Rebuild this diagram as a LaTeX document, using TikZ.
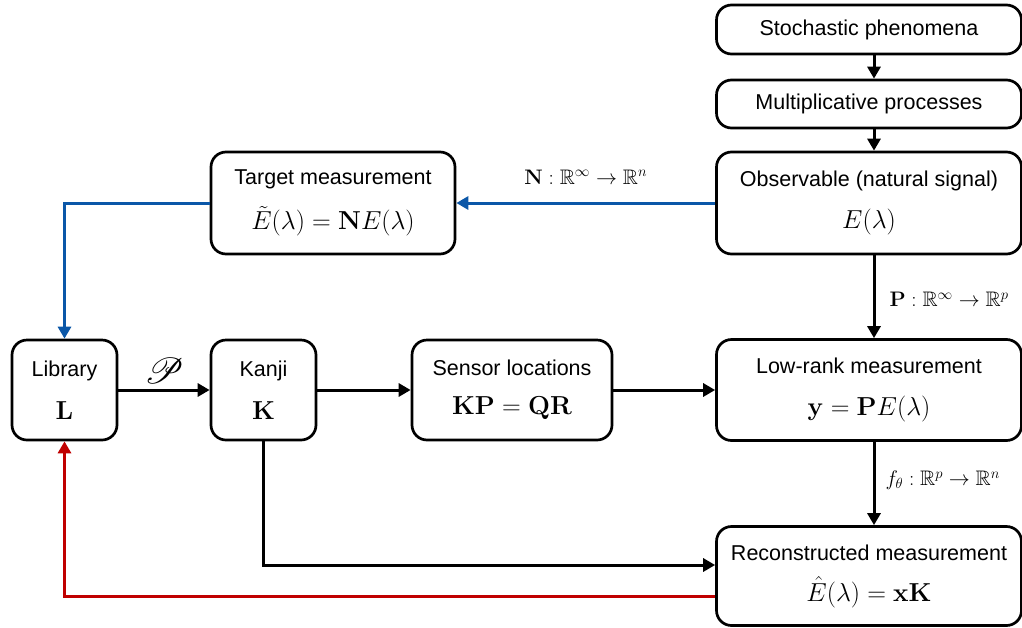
\RequirePackage{fix-cm}
\documentclass[tikz,border=0pt]{standalone}
\usepackage{amsmath,amssymb,mathrsfs}
\usepackage[no-math]{fontspec}
\newfontfamily\boxfont{Liberation Sans}
\usetikzlibrary{arrows.meta}
\definecolor{flowblue}{HTML}{0B57A8}
\definecolor{flowred}{HTML}{C00000}
\tikzset{
  stage/.style={draw, line width=2.7pt, rounded corners=15pt, align=center,
    font=\boxfont\fontsize{21.5}{25}\selectfont, inner sep=0pt},
  link/.style={line width=3pt, -{Triangle[length=12pt,width=13pt]}},
  maplabel/.style={font=\fontsize{21}{24}\selectfont, inner sep=0pt},
}
\newcommand{\boxmath}[1]{{\fontsize{26}{30}\selectfont$#1$}}
\begin{document}
\begin{tikzpicture}[x=1pt,y=-1pt]
\useasboundingbox (0,0) rectangle (1022,627);

% right-hand column
\node[stage, minimum width=305pt, minimum height=49pt] (stoch) at (869,29.5) {Stochastic phenomena};
\node[stage, minimum width=305pt, minimum height=48pt] (mult) at (869,104) {Multiplicative processes};
\node[stage, minimum width=305pt, minimum height=102pt] (obs) at (869,203)
  {Observable (natural signal)\\[17pt]\boxmath{E(\lambda)}};
\node[stage, minimum width=305pt, minimum height=101pt] (low) at (869,390)
  {Low-rank measurement\\[17pt]\boxmath{\mathbf{y} = \mathbf{P}E(\lambda)}};
\node[stage, minimum width=305pt, minimum height=99pt] (rec) at (869,576)
  {Reconstructed measurement\\[16pt]\boxmath{\hat{E}(\lambda) = \mathbf{x}\mathbf{K}}};

% target measurement
\node[stage, minimum width=244pt, minimum height=102pt] (target) at (333,203)
  {Target measurement\\[16pt]\boxmath{\tilde{E}(\lambda) = \mathbf{N}E(\lambda)}};

% middle row
\node[stage, minimum width=105pt, minimum height=100pt] (lib) at (64.5,390)
  {Library\\[18pt]\boxmath{\mathbf{L}}};
\node[stage, minimum width=105pt, minimum height=100pt] (kanji) at (263.5,390)
  {Kanji\\[18pt]\boxmath{\mathbf{K}}};
\node[stage, minimum width=200pt, minimum height=100pt] (sensor) at (512,390)
  {Sensor locations\\[14pt]\boxmath{\mathbf{KP} = \mathbf{QR}}};

% vertical chain on the right
\draw[link] ([xshift=5pt]stoch.south) -- ([xshift=5pt]mult.north);
\draw[link] ([xshift=5pt]mult.south) -- ([xshift=5pt]obs.north);
\draw[link] ([xshift=5pt]obs.south) -- node[maplabel, right=14pt, yshift=-3pt] {$\mathbf{P}:\mathbb{R}^{\infty}\rightarrow\mathbb{R}^{p}$} ([xshift=5pt]low.north);
\draw[link] ([xshift=5pt]low.south) -- node[maplabel, right=10pt, yshift=3pt] {$f_{\theta}:\mathbb{R}^{p}\rightarrow\mathbb{R}^{n}$} ([xshift=5pt]rec.north);

% measurement operator N
\draw[link, flowblue] (obs.west) -- node[maplabel, above=17pt, black] {$\mathbf{N}:\mathbb{R}^{\infty}\rightarrow\mathbb{R}^{n}$} (target.east);
\draw[link, flowblue] (target.west) -| (lib.north);

% middle row connections
\draw[link] (lib.east) -- node[above=4pt, inner sep=0pt, scale=1.45, font=\fontsize{26}{30}\selectfont] {$\mathscr{P}$} (kanji.west);
\draw[link] (kanji.east) -- (sensor.west);
\draw[link] (sensor.east) -- (low.west);

% feeds into the reconstruction and the feedback loop
\coordinate (kfeed) at (rec.west |- 0,565);
\draw[link] (kanji.south) |- (kfeed);
\coordinate (rfeed) at (rec.west |- 0,596);
\draw[link, flowred] (rfeed) -| (lib.south);
\end{tikzpicture}
\end{document}
